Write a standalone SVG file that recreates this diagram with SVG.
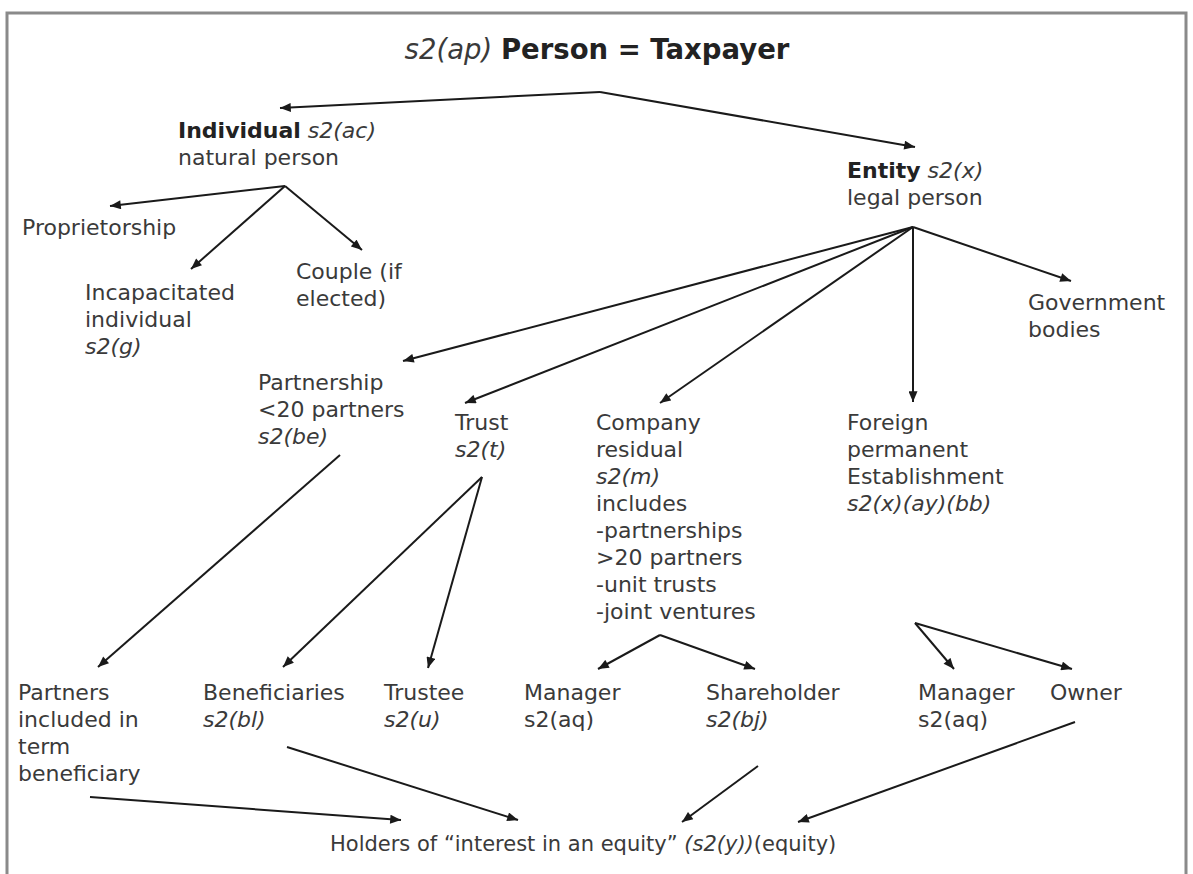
<svg xmlns="http://www.w3.org/2000/svg" width="1193" height="874" viewBox="0 0 1193 874">
<defs>
<marker id="ah" viewBox="0 0 12 10" refX="12" refY="5" markerWidth="12" markerHeight="9" markerUnits="userSpaceOnUse" orient="auto">
<path d="M0,0 L12,5 L0,10 z" fill="#1a1a1a"/>
</marker>
<style>
text{font-family:"DejaVu Sans","Verdana",sans-serif;font-size:22px;fill:#3a3a3a}
.t{font-size:27.5px}
.h{font-size:21px}
.b{font-weight:bold;fill:#222}
.i{font-style:italic}
.c line{stroke:#1a1a1a;stroke-width:2;fill:none}
.c .a{marker-end:url(#ah)}
</style>
</defs>
<rect x="0" y="0" width="1193" height="874" fill="#fff"/>
<path d="M7,880 L7,13 L1186,13 L1186,880" fill="none" stroke="#8a8a8a" stroke-width="3"/>
<g id="title"><text class="t" x="597" y="59" text-anchor="middle"><tspan class="i">s2(ap)</tspan> <tspan class="b">Person = Taxpayer</tspan></text></g>
<g id="individual"><text x="178" y="138"><tspan class="b">Individual</tspan> <tspan class="i">s2(ac)</tspan></text><text x="178" y="165">natural person</text></g>
<g id="entity"><text x="847" y="178"><tspan class="b">Entity</tspan> <tspan class="i">s2(x)</tspan></text><text x="847" y="205">legal person</text></g>
<g id="proprietorship"><text x="22" y="235">Proprietorship</text></g>
<g id="incapacitated"><text x="85" y="300">Incapacitated</text><text x="85" y="327">individual</text><text class="i" x="85" y="354">s2(g)</text></g>
<g id="couple"><text x="296" y="279">Couple (if</text><text x="296" y="306">elected)</text></g>
<g id="government"><text x="1028" y="310">Government</text><text x="1028" y="337">bodies</text></g>
<g id="partnership"><text x="258" y="390">Partnership</text><text x="258" y="417">&lt;20 partners</text><text class="i" x="258" y="444">s2(be)</text></g>
<g id="trust"><text x="455" y="430">Trust</text><text class="i" x="455" y="457">s2(t)</text></g>
<g id="company"><text x="596" y="430">Company</text><text x="596" y="457">residual</text><text class="i" x="596" y="484">s2(m)</text><text x="596" y="511">includes</text><text x="596" y="538">-partnerships</text><text x="596" y="565">&gt;20 partners</text><text x="596" y="592">-unit trusts</text><text x="596" y="619">-joint ventures</text></g>
<g id="foreign"><text x="847" y="430">Foreign</text><text x="847" y="457">permanent</text><text x="847" y="484">Establishment</text><text class="i" x="847" y="511">s2(x)(ay)(bb)</text></g>
<g id="partners"><text x="18" y="700">Partners</text><text x="18" y="727">included in</text><text x="18" y="754">term</text><text x="18" y="781">beneficiary</text></g>
<g id="beneficiaries"><text x="203" y="700">Beneficiaries</text><text class="i" x="203" y="727">s2(bl)</text></g>
<g id="trustee"><text x="384" y="700">Trustee</text><text class="i" x="384" y="727">s2(u)</text></g>
<g id="manager1"><text x="524" y="700">Manager</text><text x="524" y="727">s2(aq)</text></g>
<g id="shareholder"><text x="706" y="700">Shareholder</text><text class="i" x="706" y="727">s2(bj)</text></g>
<g id="manager2"><text x="918" y="700">Manager</text><text x="918" y="727">s2(aq)</text></g>
<g id="owner"><text x="1050" y="700">Owner</text></g>
<g id="holders"><text class="h" x="330" y="851">Holders of “interest in an equity” <tspan class="i">(s2(y))</tspan>(equity)</text></g>
<g class="c" id="connectors">
<line class="a" x1="600" y1="92" x2="280" y2="108"/>
<line class="a" x1="600" y1="92" x2="915" y2="147"/>
<line class="a" x1="285" y1="186" x2="110" y2="206"/>
<line class="a" x1="285" y1="186" x2="191" y2="269"/>
<line class="a" x1="285" y1="186" x2="362" y2="250"/>
<line class="a" x1="913" y1="227" x2="403" y2="361"/>
<line class="a" x1="913" y1="227" x2="465" y2="403"/>
<line class="a" x1="913" y1="227" x2="660" y2="403"/>
<line class="a" x1="913" y1="227" x2="913" y2="402"/>
<line class="a" x1="913" y1="227" x2="1071" y2="281"/>
<line class="a" x1="340" y1="455" x2="98" y2="667"/>
<line class="a" x1="482" y1="477" x2="283" y2="667"/>
<line class="a" x1="482" y1="477" x2="428" y2="668"/>
<line class="a" x1="660" y1="635" x2="598" y2="669"/>
<line class="a" x1="660" y1="635" x2="755" y2="669"/>
<line class="a" x1="915" y1="623" x2="954" y2="669"/>
<line class="a" x1="915" y1="623" x2="1072" y2="669"/>
<line class="a" x1="90" y1="797" x2="401" y2="820"/>
<line class="a" x1="287" y1="747" x2="518" y2="820"/>
<line class="a" x1="758" y1="766" x2="682" y2="822"/>
<line class="a" x1="1075" y1="722" x2="798" y2="822"/>
</g>
</svg>
